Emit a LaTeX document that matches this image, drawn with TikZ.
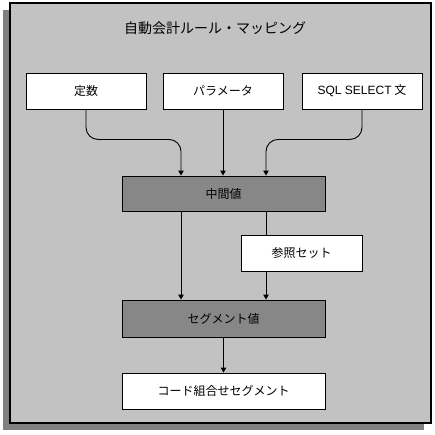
\documentclass[tikz,border=0pt]{standalone}
\usepackage{fontspec}
\setmainfont{Noto Sans CJK JP}
\newfontfamily\latinsans{Liberation Sans}
\usetikzlibrary{arrows.meta}
\definecolor{framefill}{RGB}{194,194,194}
\definecolor{shadowgray}{RGB}{128,128,128}
\definecolor{darkbox}{RGB}{135,135,135}
\begin{document}
\begin{tikzpicture}[x=1pt,y=-1pt,
  box/.style={draw=black,line width=0.9pt,fill=white,minimum width=120pt,minimum height=36pt,inner sep=0pt,font=\fontsize{12}{14}\selectfont},
  widebox/.style={box,minimum width=203pt},
  darkstyle/.style={fill=darkbox},
  arr/.style={line width=0.9pt,-{Triangle[width=5.5pt,length=5pt]}},
  ln/.style={line width=0.9pt}]
\useasboundingbox (0,0) rectangle (435,434);
% shadow and frame
\fill[shadowgray] (3,10) rectangle (424,430);
\draw[line width=1.4pt,fill=framefill] (10,3) rectangle (431,423);
\node[font=\fontsize{14}{16}\selectfont] (title) at (215,28) {自動会計ルール・マッピング};
% top boxes
\node[box] (b1) at (86,91) {定数};
\node[box] (b2) at (223,91) {パラメータ};
\node[box] (b3) at (362,91) {{\latinsans\fontsize{12}{14}\selectfont SQL SELECT} 文};
% middle
\node[widebox,darkstyle,minimum height=35pt] (mid) at (223.5,193.5) {中間値};
\node[box,minimum width=121pt] (ref) at (301.5,253) {参照セット};
\node[widebox,darkstyle,minimum height=37pt] (seg) at (223.5,318.5) {セグメント値};
\node[widebox] (code) at (223.5,391) {コード組合せセグメント};
% connectors
\coordinate (mL) at ([xshift=-42.5pt]mid.north);
\coordinate (mR) at ([xshift=42.5pt]mid.north);
\draw[arr,rounded corners=12pt] (b1.south) -- ++(0,30) -| (mL);
\draw[arr] (b2.south) -- (b2.south |- mid.north);
\draw[arr,rounded corners=12pt] (b3.south) -- ++(0,30) -| (mR);
\coordinate (sL) at ([xshift=-42.5pt]mid.south);
\coordinate (sR) at ([xshift=42.5pt]mid.south);
\draw[arr] (sL) -- (sL |- seg.north);
\draw[ln] (sR) -- (sR |- ref.north);
\draw[arr] (sR |- ref.south) -- (sR |- seg.north);
\draw[arr] (seg.south) -- (code.north);
\end{tikzpicture}
\end{document}
